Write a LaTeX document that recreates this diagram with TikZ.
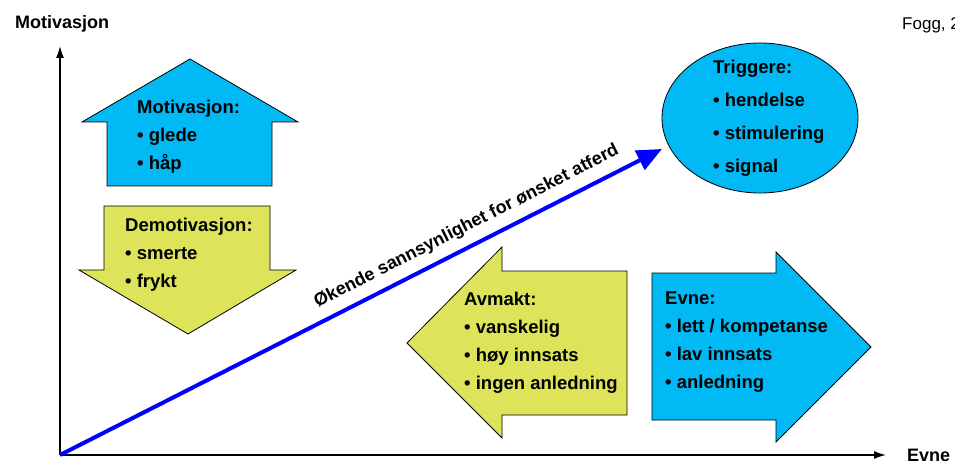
\documentclass[tikz,border=0pt]{standalone}
\usepackage{fontspec}
\setmainfont{Liberation Sans}
\usetikzlibrary{arrows.meta,shapes.geometric}

\definecolor{himmelblaa}{RGB}{0,185,245}
\definecolor{limegul}{RGB}{221,228,90}
\definecolor{trendblaa}{RGB}{0,0,255}

\tikzset{
  pil/.style={draw=black, line width=0.8pt, line join=miter},
  pilsvart/.style={pil, fill=limegul},
  pilblaa/.style={pil, fill=himmelblaa},
  punkter/.style={anchor=north west, inner sep=0pt, align=left,
    font=\fontsize{18.5}{28}\selectfont\bfseries},
  akse/.style={line width=1.6pt, -{Latex[length=12pt,width=8pt]}},
  akselabel/.style={anchor=base west, inner sep=0pt,
    font=\fontsize{18}{20}\selectfont\bfseries},
}

\begin{document}
\begin{tikzpicture}[x=1pt,y=-1pt]
\useasboundingbox (0,0) rectangle (955,462);

% aksene
\coordinate (o) at (60,455);
\coordinate (ytopp) at (60,46);
\coordinate (xslutt) at (886,455);
\draw[akse] (o) -- (ytopp);
\draw[akse] (o) -- (xslutt);
\node[akselabel] (ylab) at (15,29) {Motivasjon};
\node[akselabel] (xlab) at (907,461) {Evne};
\node[akselabel, font=\fontsize{17}{20}\selectfont] (kilde) at (902,30) {Fogg, 2};

% motivasjon opp
\draw[pilblaa] (107,186) -- (107,122) -- (82,122) -- (190,59) -- (298,122)
  -- (272,122) -- (272,186) -- cycle;
\node[punkter] (motiv) at (137,100)
  {Motivasjon:\\\textbullet{} glede\\\textbullet{} håp};

% demotivasjon ned
\draw[pilsvart] (104,206) -- (270,206) -- (270,270) -- (296,270) -- (188,334)
  -- (79,270) -- (104,270) -- cycle;
\node[punkter] (demotiv) at (125,218)
  {Demotivasjon:\\\textbullet{} smerte\\\textbullet{} frykt};

% avmakt venstre
\draw[pilsvart] (627,271) -- (502,271) -- (502,247) -- (407,343) -- (502,438)
  -- (502,415) -- (627,415) -- cycle;
\node[punkter] (avmakt) at (464,292)
  {Avmakt:\\\textbullet{} vanskelig\\\textbullet{} høy innsats\\\textbullet{} ingen anledning};

% evne hoyre
\draw[pilblaa] (652,273) -- (776,273) -- (776,252) -- (871,347) -- (776,442)
  -- (776,420) -- (652,420) -- cycle;
\node[punkter] (evne) at (665,292)
  {Evne:\\\textbullet{} lett / kompetanse\\\textbullet{} lav innsats\\\textbullet{} anledning};

% triggere
\node[ellipse, draw=black, line width=0.8pt, fill=himmelblaa, inner sep=0pt,
  minimum width=196pt, minimum height=150pt] (trig) at (760,118) {};
\node[punkter, font=\fontsize{18.5}{33}\selectfont\bfseries] (trigtekst) at (713,60)
  {Triggere:\\\textbullet{} hendelse\\\textbullet{} stimulering\\\textbullet{} signal};

% trend
\coordinate (tupp) at (662,149);
\draw[trendblaa, line width=4pt, -{Triangle[length=25pt,width=21pt]}] (o) -- (tupp)
  node[pos=0.69, sloped, above=9pt, inner sep=0pt, text=black,
    font=\fontsize{18}{20}\selectfont\bfseries] (trend)
  {Økende sannsynlighet for ønsket atferd};
\end{tikzpicture}
\end{document}
